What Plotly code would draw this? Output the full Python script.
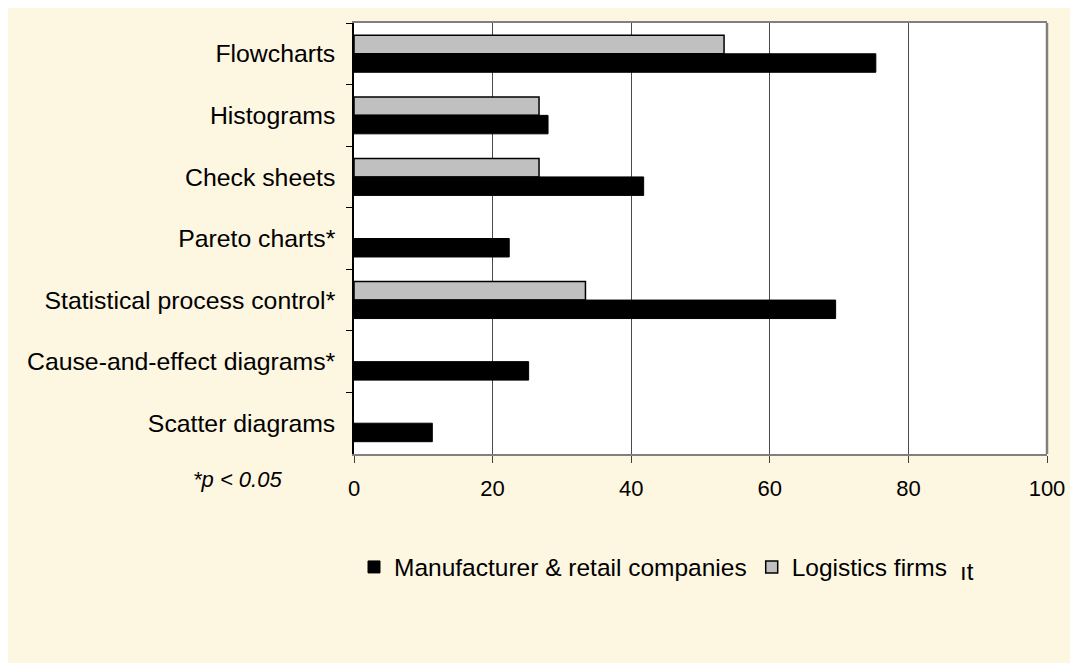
import plotly.graph_objects as go

categories = ["Flowcharts", "Histograms", "Check sheets", "Pareto charts*",
              "Statistical process control*", "Cause-and-effect diagrams*", "Scatter diagrams"]
manufacturer = [75.3, 28.0, 41.8, 22.4, 69.5, 25.2, 11.3]
logistics = [53.4, 26.7, 26.7, None, 33.4, None, None]
x_ticks = [0, 20, 40, 60, 80, 100]

FONT = "Liberation Sans, Arial, sans-serif"
CREAM = "#FDF6E0"

fig = go.Figure()
fig.add_trace(go.Bar(
    y=categories, x=logistics, orientation="h", name="Logistics firms",
    marker=dict(color="#C0C0C0", line=dict(color="#000000", width=1.5)),
    legendrank=2,
))
fig.add_trace(go.Bar(
    y=categories, x=manufacturer, orientation="h", name="Manufacturer & retail companies",
    marker=dict(color="#000000", line=dict(color="#000000", width=1)),
    legendrank=1,
))

# page is offset by the 8px body margin
OFF = 8
W, H = 1078, 663
L, R, T, B = 354 - OFF, 1047 - OFF, 23 - OFF, 454 - OFF
pw, ph = R - L, B - T

def px(xp):
    return (xp - OFF - L) / pw

def py(yp):
    return (B - (yp - OFF)) / ph

fig.update_layout(
    width=W, height=H,
    margin=dict(l=L, r=W - R, t=T, b=H - B),
    paper_bgcolor=CREAM, plot_bgcolor="#FFFFFF",
    barmode="group", bargap=0.4, bargroupgap=0,
    font=dict(family=FONT, color="#000000", size=24),
    showlegend=True,
    legend=dict(orientation="h", x=px(354), xanchor="left", y=py(567), yanchor="middle",
                font=dict(size=24.5, family=FONT), bgcolor="rgba(0,0,0,0)",
                itemwidth=30, traceorder="normal"),
    xaxis=dict(range=[0, 100], tickvals=x_ticks, ticktext=[str(v) for v in x_ticks],
               showgrid=True, gridcolor="#4a4a4a", gridwidth=1,
               showline=True, linecolor="#808080", linewidth=2, mirror=True,
               ticks="outside", ticklen=7, tickcolor="#404040", tickwidth=1,
               tickfont=dict(size=22, family=FONT), ticklabelstandoff=7,
               zeroline=False, fixedrange=True),
    yaxis=dict(autorange="reversed", type="category", tickson="boundaries",
               showgrid=False, showline=True, linecolor="#000000", linewidth=1.5,
               ticks="outside", ticklen=6, tickcolor="#000000", tickwidth=1,
               tickfont=dict(size=24.8, family=FONT), ticklabelstandoff=12,
               fixedrange=True),
    shapes=[
        dict(type="line", xref="paper", yref="paper", x0=1, x1=1, y0=0, y1=1,
             line=dict(color="#808080", width=2.5), layer="above"),
    ],
    annotations=[
        dict(text="*p < 0.05", xref="paper", yref="paper", x=px(284), y=py(479),
             xanchor="right", yanchor="middle", showarrow=False,
             font=dict(size=22, family=FONT, style="italic")),
        dict(text="\u0131t", xref="paper", yref="paper", x=px(967), y=py(571),
             xanchor="center", yanchor="middle", showarrow=False,
             font=dict(size=24, family=FONT)),
    ],
)

fig.write_html("out.html")
